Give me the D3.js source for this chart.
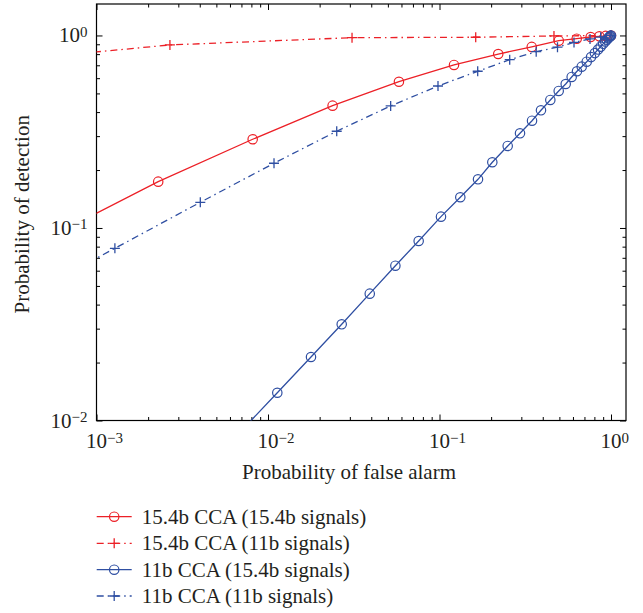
<!DOCTYPE html>
<html>
<head>
<meta charset="utf-8">
<script src="https://cdn.jsdelivr.net/npm/d3@7"></script>
<style>
  body { margin: 0; background: #fff; }
  text { font-family: "Liberation Serif", "DejaVu Serif", serif; fill: #231f20; }
</style>
</head>
<body>
<div id="chart"></div>
<script>
/* Data (Pfa, Pd); first points lie outside the axes and get clipped */
var redSolidPfa = [0.0005, 0.00229, 0.00814, 0.0238, 0.058, 0.1215, 0.22, 0.345, 0.496, 0.631, 0.761, 0.855, 0.93, 1.0];
var redSolidPd  = [0.087, 0.174, 0.289, 0.432, 0.575, 0.703, 0.801, 0.872, 0.94, 0.962, 0.982, 0.99, 0.995, 1.0];

var redDashPfa = [0.0004, 0.00268, 0.0309, 0.1626, 0.465, 1.0];
var redDashPd  = [0.76, 0.893, 0.974, 0.979, 0.994, 1.0];

var blueSolidPfa = [0.0055, 0.01133, 0.01781, 0.0269, 0.0392, 0.0553, 0.0756, 0.102, 0.1322, 0.1677, 0.2032,
                    0.2498, 0.2947, 0.3463, 0.3906, 0.4427, 0.4955, 0.5443, 0.5898, 0.6334, 0.6748, 0.7218,
                    0.765, 0.805, 0.84, 0.87, 0.9, 0.925, 0.945, 0.962, 0.975, 0.985, 0.993, 1.0];
var blueSolidPd  = [0.00705, 0.01394, 0.02137, 0.0316, 0.0456, 0.0637, 0.0856, 0.1145, 0.1444, 0.179, 0.2195,
                    0.2667, 0.3104, 0.3608, 0.4087, 0.4624, 0.5149, 0.5598, 0.6087, 0.6517, 0.6886, 0.7307,
                    0.772, 0.81, 0.845, 0.875, 0.905, 0.93, 0.95, 0.966, 0.978, 0.988, 0.995, 1.0];

var blueDashPfa = [0.0005, 0.00128, 0.00403, 0.01084, 0.02516, 0.0519, 0.098, 0.167, 0.2566, 0.3663, 0.4875, 0.6085, 0.7544, 0.87, 1.0];
var blueDashPd  = [0.0499, 0.0784, 0.136, 0.2169, 0.318, 0.4303, 0.5465, 0.6517, 0.7486, 0.824, 0.8694, 0.92, 0.959, 0.98, 1.0];

var legendLabels = ["15.4b CCA (15.4b signals)", "15.4b CCA (11b signals)", "11b CCA (15.4b signals)", "11b CCA (11b signals)"];
var xTickExps = [-3, -2, -1, 0];
var yTickExps = [-2, -1, 0];

/* Settings */
var width = 643,
    height = 613,
    plotLeft = 96.5, plotRight = 626, plotTop = 4, plotBottom = 420.5,
    red = "#ec2027",
    blue = "#2f4fa2",
    dashDot = "7,4,1.5,4",
    fontSize = 21,
    supSize = 15;

var series = [
  {pfa: redSolidPfa,  pd: redSolidPd,  color: red,  dash: null,    marker: "circle"},
  {pfa: redDashPfa,   pd: redDashPd,   color: red,  dash: dashDot, marker: "plus"},
  {pfa: blueSolidPfa, pd: blueSolidPd, color: blue, dash: null,    marker: "circle"},
  {pfa: blueDashPfa,  pd: blueDashPd,  color: blue, dash: dashDot, marker: "plus"}
];

var x = d3.scaleLog().domain([1e-3, 1.223]).range([plotLeft, plotRight]);
var y = d3.scaleLog().domain([1e-2, 1.457]).range([plotBottom, plotTop]);

function minors(lo, hi) {
  var out = [];
  for (var e = lo; e < hi; e++)
    for (var k = 2; k <= 9; k++) out.push(k * Math.pow(10, e));
  return out;
}
var xMajor = xTickExps.map(function(e) { return Math.pow(10, e); }),
    yMajor = yTickExps.map(function(e) { return Math.pow(10, e); }),
    xMinor = minors(-3, 0),
    yMinor = minors(-2, 0);

var svg = d3.select("#chart").append("svg")
    .attr("width", width)
    .attr("height", height);

svg.append("defs").append("clipPath").attr("id", "plotclip")
  .append("rect")
    .attr("x", plotLeft).attr("y", plotTop)
    .attr("width", plotRight - plotLeft).attr("height", plotBottom - plotTop);

/* Ticks on all four sides, pointing inward */
function ticks(axisFn, scale, values, size, tx, ty) {
  svg.append("g")
    .attr("transform", "translate(" + tx + "," + ty + ")")
    .call(axisFn(scale).tickValues(values).tickSize(-size).tickSizeOuter(0).tickFormat(""))
    .call(function(g) { g.select(".domain").remove(); })
    .selectAll("line").attr("stroke", "#000").attr("stroke-width", 1);
}
ticks(d3.axisBottom, x, xMajor, 6, 0, plotBottom);
ticks(d3.axisBottom, x, xMinor, 3.5, 0, plotBottom);
ticks(d3.axisTop, x, xMajor, 6, 0, plotTop);
ticks(d3.axisTop, x, xMinor, 3.5, 0, plotTop);
ticks(d3.axisLeft, y, yMajor, 6, plotLeft, 0);
ticks(d3.axisLeft, y, yMinor, 3.5, plotLeft, 0);
ticks(d3.axisRight, y, yMajor, 6, plotRight, 0);
ticks(d3.axisRight, y, yMinor, 3.5, plotRight, 0);

svg.append("rect")
  .attr("x", plotLeft).attr("y", plotTop)
  .attr("width", plotRight - plotLeft).attr("height", plotBottom - plotTop)
  .attr("fill", "none").attr("stroke", "#000").attr("stroke-width", 1.2);

/* Tick labels as 10^e */
function powLabel(e) {
  var t = svg.append("text").attr("font-size", fontSize);
  t.append("tspan").text("10");
  t.append("tspan").attr("font-size", supSize).attr("dy", -5.5)
    .text(e < 0 ? "\u2212" + (-e) : String(e));
  return t;
}
var w10 = (function() {
  var t = svg.append("text").attr("font-size", fontSize).text("10");
  var w = t.node().getComputedTextLength();
  t.remove();
  return w;
})();

xTickExps.forEach(function(e) {
  powLabel(e).attr("x", x(Math.pow(10, e)) - w10 / 2).attr("y", plotBottom + 27.5);
});
yTickExps.forEach(function(e) {
  powLabel(e).attr("text-anchor", "end").attr("x", plotLeft - 9).attr("y", y(Math.pow(10, e)) + 7);
});

/* Axis titles */
svg.append("text")
  .attr("font-size", fontSize)
  .attr("text-anchor", "middle")
  .attr("x", 349)
  .attr("y", 479)
  .text("Probability of false alarm");

svg.append("text")
  .attr("font-size", fontSize)
  .attr("text-anchor", "middle")
  .attr("transform", "translate(29," + ((plotTop + plotBottom) / 2 + 2) + ") rotate(-90)")
  .text("Probability of detection");

/* Curves */
var line = d3.line()
  .x(function(d) { return x(d[0]); })
  .y(function(d) { return y(d[1]); });

function drawMarker(g, kind, cx, cy, color) {
  if (kind === "circle") {
    g.append("circle").attr("cx", cx).attr("cy", cy).attr("r", 4.7)
      .attr("fill", "none").attr("stroke", color).attr("stroke-width", 1.2);
  } else {
    g.append("path")
      .attr("d", "M" + (cx - 5) + "," + cy + "H" + (cx + 5) + "M" + cx + "," + (cy - 5) + "V" + (cy + 5))
      .attr("stroke", color).attr("stroke-width", 1.3);
  }
}

var plot = svg.append("g").attr("clip-path", "url(#plotclip)");
series.forEach(function(s) {
  var pts = s.pfa.map(function(p, i) { return [p, s.pd[i]]; });
  var g = plot.append("g");
  g.append("path")
    .datum(pts)
    .attr("fill", "none")
    .attr("stroke", s.color)
    .attr("stroke-width", 1.3)
    .attr("stroke-dasharray", s.dash)
    .attr("d", line);
  pts.forEach(function(d) { drawMarker(g, s.marker, x(d[0]), y(d[1]), s.color); });
});

/* Legend */
var legendY = [516.7, 543.3, 569.7, 596];
series.forEach(function(s, i) {
  var g = svg.append("g");
  g.append("line")
    .attr("x1", 96.7).attr("x2", 131.7)
    .attr("y1", legendY[i]).attr("y2", legendY[i])
    .attr("stroke", s.color).attr("stroke-width", 1.3)
    .attr("stroke-dasharray", s.dash);
  drawMarker(g, s.marker, 114.2, legendY[i], s.color);
  g.append("text")
    .attr("font-size", fontSize)
    .attr("x", 141.7)
    .attr("y", legendY[i] + 7)
    .text(legendLabels[i]);
});
</script>
</body>
</html>
